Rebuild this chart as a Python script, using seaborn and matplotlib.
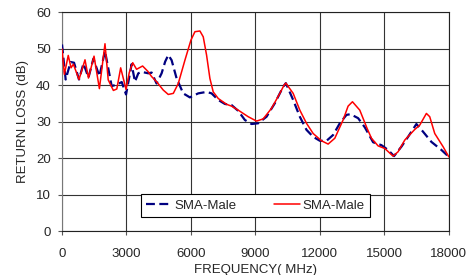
import pandas as pd
import matplotlib
matplotlib.use("Agg")
import matplotlib.pyplot as plt
import seaborn as sns

# Data (frequency in MHz, return loss in dB)
freq_blue = [0, 170, 400, 560, 790, 1000, 1230, 1460, 1740, 2000, 2310, 2540, 2780, 2980,
             3240, 3395, 3550, 3700, 4015, 4170, 4400, 4635, 4800, 4945, 5100, 5333, 5640,
             5950, 6340, 6727, 6960, 7270, 7580, 7890, 8200, 8510, 8820, 9130, 9518, 9905,
             10290, 10416, 10757, 11067, 11377, 11687, 12000, 12310, 12617, 12927, 13238,
             13424, 13780, 14090, 14290, 14477, 14865, 15174, 15450, 15795, 16105, 16492,
             16800, 17190, 17655, 18000]
loss_blue = [51.2, 41.6, 46.4, 46.2, 41.6, 46.0, 42.1, 47.3, 42.5, 49.4, 39.8, 40.2, 40.9, 37.5,
             45.8, 41.0, 43.3, 43.7, 43.3, 43.5, 40.5, 43.3, 46.5, 48.3, 46.9, 41.9, 37.8,
             36.7, 37.8, 38.2, 37.8, 36.0, 34.9, 34.6, 33.0, 30.5, 29.4, 29.6, 31.4, 35.1,
             39.6, 40.6, 36.0, 31.4, 27.8, 25.9, 24.8, 24.8, 26.4, 29.6, 31.9,
             32.1, 31.0, 28.5, 26.4, 24.4, 23.6, 22.3, 20.6, 23.2, 25.9, 29.4,
             27.3, 24.5, 22.3, 20.4]

freq_red = [0, 110, 290, 420, 530, 790, 1070, 1230, 1490, 1740, 2000, 2150, 2390, 2550, 2730,
            2980, 3130, 3290, 3470, 3750, 4000, 4170, 4400, 4712, 4945, 5180, 5410, 5720, 6000,
            6185, 6417, 6572, 6727, 6882, 7037, 7270, 7657, 7890, 8200, 8665, 9053, 9362,
            9750, 10137, 10338, 10416, 10757, 11067, 11377, 11687, 12075, 12384, 12695, 13080,
            13313, 13516, 13857, 14197, 14400, 14710, 15019, 15407, 15640, 15950, 16415,
            16647, 16957, 17112, 17345, 17732, 18000]
loss_red = [50.0, 43.0, 48.2, 44.8, 45.8, 41.6, 47.0, 42.0, 48.0, 39.1, 51.4, 41.5, 38.6, 39.0, 44.8,
            38.9, 43.5, 46.2, 44.4, 45.3, 43.8, 42.4, 41.0, 38.7, 37.5, 37.8, 40.5, 46.9, 52.4,
            54.7, 54.9, 53.3, 48.3, 41.9, 38.2, 36.4, 34.8, 34.3, 33.2, 31.4, 30.2, 30.8,
            33.7, 37.8, 40.1, 40.6, 37.8, 33.2, 29.6, 26.8, 24.8, 23.9, 25.5, 30.5,
            34.3, 35.5, 33.2, 28.2, 25.5, 23.4, 22.7, 20.6, 21.8, 25.0, 27.9,
            29.1, 32.3, 31.4, 26.8, 23.2, 20.4]

xticks = [0, 3000, 6000, 9000, 12000, 15000, 18000]
yticks = [0, 10, 20, 30, 40, 50, 60]

sns.set_style("white")
plt.rcParams['font.family'] = ['Liberation Sans', 'DejaVu Sans']
fs = 9.5

fig = plt.figure(figsize=(4.68, 2.75), dpi=100)
ax = fig.add_axes([0.1325, 0.159, 0.8265, 0.796])

df_blue = pd.DataFrame({"f": freq_blue, "rl": loss_blue})
df_red = pd.DataFrame({"f": freq_red, "rl": loss_red})

sns.lineplot(data=df_blue, x="f", y="rl", ax=ax, color="#000080", linewidth=1.6,
             linestyle=(0, (4, 2)), label="SMA-Male", zorder=3)
sns.lineplot(data=df_red, x="f", y="rl", ax=ax, color="#ff0000", linewidth=1.1,
             label="SMA-Male", zorder=4)

ax.set_xlim(0, 18000)
ax.set_ylim(0, 60)
ax.set_xticks(xticks)
ax.set_yticks(yticks)
ax.grid(True, color="#333333", linewidth=0.8)
ax.tick_params(axis="x", direction="out", length=3, width=0.8, color="#555555",
               labelsize=fs, pad=9, bottom=True)
ax.tick_params(axis="y", direction="out", length=3, width=0.8, color="#555555",
               labelsize=fs, pad=5, left=True)
for s in ax.spines.values():
    s.set_color("#222222")
    s.set_linewidth(0.8)
ax.spines["left"].set_color("#777777")

ax.set_xlabel("FREQUENCY( MHz)", fontsize=fs, labelpad=3)
ax.set_ylabel("RETURN LOSS (dB)", fontsize=fs, labelpad=5)

leg = ax.legend(loc="lower center", bbox_to_anchor=(0.5, 0.035), ncol=2, frameon=True,
                fancybox=False, edgecolor="black", framealpha=1, handlelength=2.0,
                handletextpad=0.2, columnspacing=2.8, borderpad=0.4, fontsize=fs)
leg.get_frame().set_linewidth(0.8)

plt.savefig("out.png", dpi=100)
plt.close()
